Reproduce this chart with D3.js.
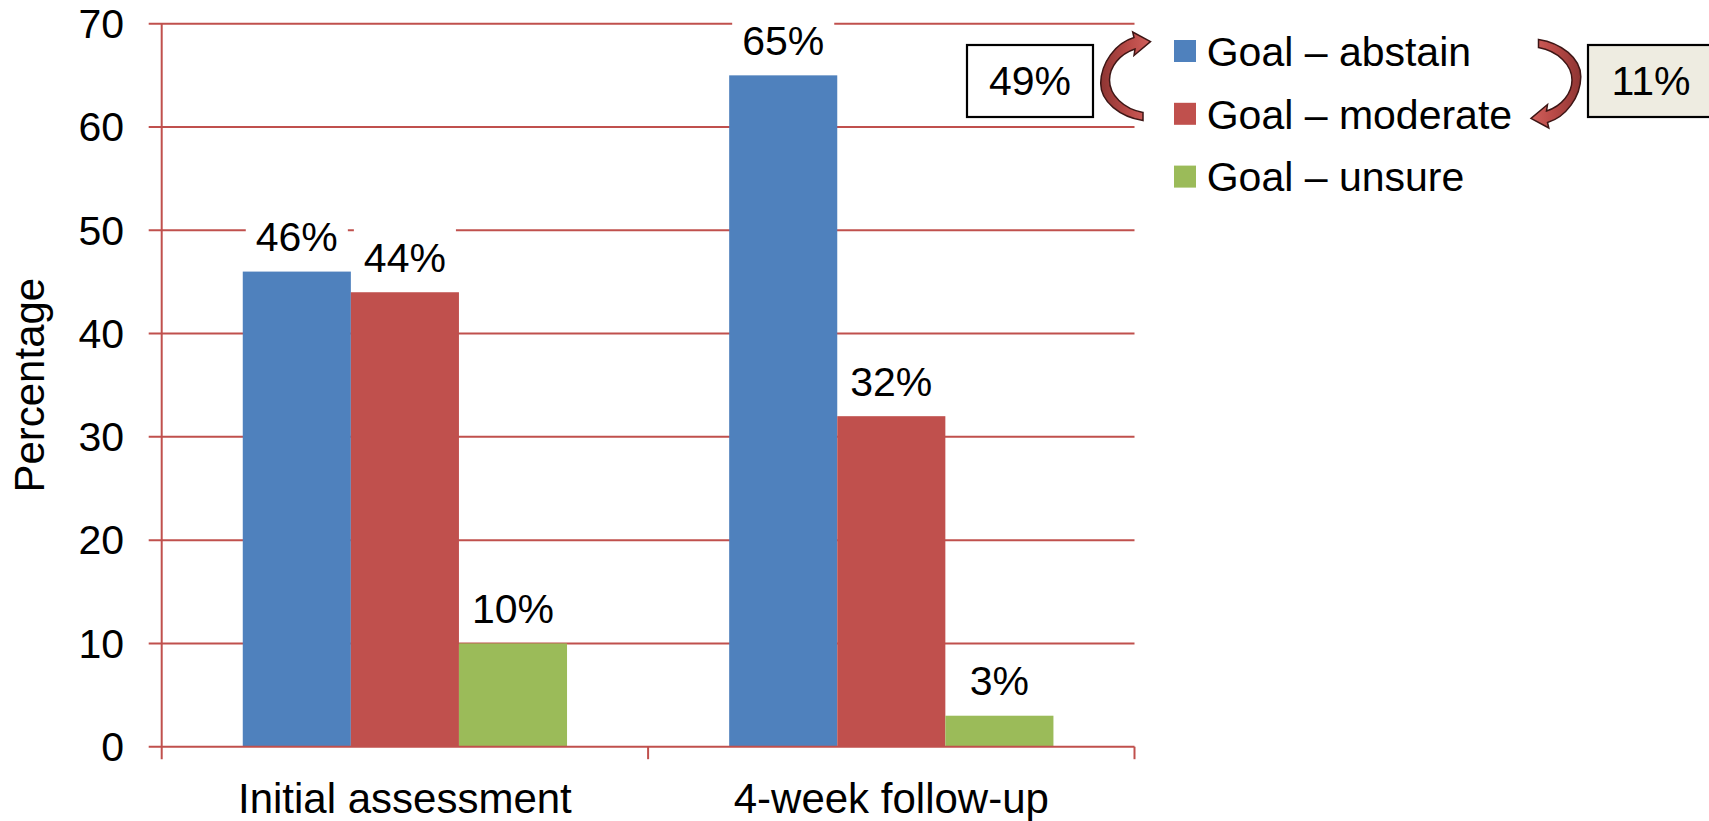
<!DOCTYPE html>
<html>
<head>
<meta charset="utf-8">
<script src="https://cdn.jsdelivr.net/npm/d3@7"></script>
<style>
  html, body { margin: 0; padding: 0; background: #fff; }
  svg { display: block; }
  text { font-family: "Liberation Sans", Arial, sans-serif; fill: #000; }
</style>
</head>
<body>
<svg id="chart" width="1709" height="821"></svg>
<script>
// ---- data ----
const categories = ["Initial assessment", "4-week follow-up"];
const seriesNames = ["Goal \u2013 abstain", "Goal \u2013 moderate", "Goal \u2013 unsure"];
const abstainValues = [46, 65];
const moderateValues = [44, 32];
const unsureValues = [10, 3];
const yTicks = [0, 10, 20, 30, 40, 50, 60, 70];
const seriesColors = ["#4F81BD", "#C0504D", "#9BBB59"];
const yTitle = "Percentage";
const annotationLeft = "49%";
const annotationRight = "11%";

const seriesValues = [abstainValues, moderateValues, unsureValues];

// ---- layout ----
const W = 1709, H = 821;
const plot = { left: 161.7, right: 1134.5, top: 23.7, bottom: 746.7 };
const axisColor = "#C0504D";
const fontSize = 41;

const svg = d3.select("#chart");

const x0 = d3.scaleBand().domain(categories).range([plot.left, plot.right]).padding(0);
const x1 = d3.scaleBand().domain(seriesNames).range([0, x0.bandwidth()])
  .paddingInner(0).paddingOuter(0.75);
const y = d3.scaleLinear().domain([0, 70]).range([plot.bottom, plot.top]);

// gridlines
svg.append("g").selectAll("line").data(yTicks.filter(d => d > 0)).join("line")
  .attr("x1", plot.left - 13).attr("x2", plot.right)
  .attr("y1", d => y(d)).attr("y2", d => y(d))
  .attr("stroke", axisColor).attr("stroke-width", 2);

// bars
const rows = [];
categories.forEach((c, ci) => seriesNames.forEach((s, si) => {
  rows.push({ cat: c, ser: s, si, value: seriesValues[si][ci] });
}));

svg.append("g").selectAll("rect").data(rows).join("rect")
  .attr("x", d => x0(d.cat) + x1(d.ser))
  .attr("y", d => y(d.value))
  .attr("width", x1.bandwidth())
  .attr("height", d => y(0) - y(d.value))
  .attr("fill", d => seriesColors[d.si]);

// data labels with white background
const lg = svg.append("g");
rows.forEach(d => {
  const cx = x0(d.cat) + x1(d.ser) + x1.bandwidth() / 2;
  const base = y(d.value) - 20.5;
  const t = lg.append("text")
    .attr("x", cx).attr("y", base)
    .attr("text-anchor", "middle")
    .attr("font-size", fontSize)
    .text(d.value + "%");
  const bb = t.node().getBBox();
  lg.insert("rect", () => t.node())
    .attr("x", cx - bb.width / 2 - 10)
    .attr("y", base - 46)
    .attr("width", bb.width + 20)
    .attr("height", 56)
    .attr("fill", "#fff");
});

// axes
const ax = svg.append("g");
ax.append("line").attr("x1", plot.left).attr("x2", plot.left)
  .attr("y1", plot.top).attr("y2", plot.bottom + 12.5)
  .attr("stroke", axisColor).attr("stroke-width", 2);
ax.append("line").attr("x1", plot.left - 13).attr("x2", plot.right)
  .attr("y1", plot.bottom).attr("y2", plot.bottom)
  .attr("stroke", axisColor).attr("stroke-width", 2);
const bounds = categories.map(c => x0(c)).concat([x0(categories[categories.length - 1]) + x0.bandwidth()]);
ax.selectAll("line.xt").data(bounds.slice(1)).join("line").attr("class", "xt")
  .attr("x1", d => d).attr("x2", d => d)
  .attr("y1", plot.bottom).attr("y2", plot.bottom + 12.5)
  .attr("stroke", axisColor).attr("stroke-width", 2);

// y tick labels
ax.selectAll("text.yt").data(yTicks).join("text").attr("class", "yt")
  .attr("x", 124).attr("y", d => y(d)).attr("dy", "0.35em")
  .attr("text-anchor", "end").attr("font-size", fontSize)
  .text(d => d);

// x labels
ax.selectAll("text.xl").data(categories).join("text").attr("class", "xl")
  .attr("x", d => x0(d) + x0.bandwidth() / 2).attr("y", 813)
  .attr("text-anchor", "middle").attr("font-size", fontSize + 1)
  .text(d => d);

// y title
svg.append("text")
  .attr("transform", `translate(44.3,${(plot.top + plot.bottom) / 2}) rotate(-90)`)
  .attr("text-anchor", "middle").attr("font-size", fontSize + 1)
  .text(yTitle);

// legend
const leg = svg.append("g").attr("transform", "translate(1174,40)");
const legRow = 62.8;
seriesNames.forEach((s, i) => {
  leg.append("rect").attr("x", 0).attr("y", i * legRow).attr("width", 22).attr("height", 22)
    .attr("fill", seriesColors[i]);
  leg.append("text").attr("x", 32.7).attr("y", i * legRow + 25.7)
    .attr("font-size", fontSize).text(s);
});

// annotation boxes
function annBox(x, yy, w, h, fill, label) {
  svg.append("rect").attr("x", x).attr("y", yy).attr("width", w).attr("height", h)
    .attr("fill", fill).attr("stroke", "#000").attr("stroke-width", 2.2);
  svg.append("text").attr("x", x + w / 2).attr("y", yy + 50)
    .attr("text-anchor", "middle").attr("font-size", fontSize).text(label);
}
annBox(967, 45, 126, 72, "#fff", annotationLeft);
annBox(1588, 45, 126, 72, "#EEECE1", annotationRight);

// curved arrows
const defs = svg.append("defs");
const grad = defs.append("linearGradient").attr("id", "arrowGrad")
  .attr("x1", "0").attr("y1", "0").attr("x2", "1").attr("y2", "0");
grad.append("stop").attr("offset", "0%").attr("stop-color", "#8E3533");
grad.append("stop").attr("offset", "55%").attr("stop-color", "#B94A47");
grad.append("stop").attr("offset", "100%").attr("stop-color", "#D0605C");

const arrowPath = "M 17.5,43.5 C -5,40 -25,25 -24.8,6.3 C -24.6,-14 -10,-34 8.5,-39.5 " +
  "L 7.2,-45 L 25,-35.3 L 8.5,-21.5 L 9.5,-28 " +
  "C -6,-23 -16,-10 -16,3 C -16,18 -2,32 17.5,35.5 Z";
svg.append("path").attr("d", arrowPath)
  .attr("transform", "translate(1125.5,77)")
  .attr("fill", "url(#arrowGrad)").attr("stroke", "#3d1615").attr("stroke-width", 1.5);
svg.append("path").attr("d", arrowPath)
  .attr("transform", "translate(1556,83) rotate(180)")
  .attr("fill", "url(#arrowGrad)").attr("stroke", "#3d1615").attr("stroke-width", 1.5);
</script>
</body>
</html>
